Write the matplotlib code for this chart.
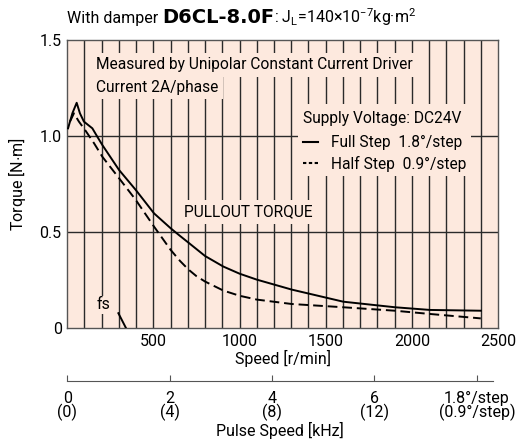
import numpy as np
import matplotlib.pyplot as plt
from matplotlib.lines import Line2D

plt.rcParams['font.family'] = ['Roboto', 'DejaVu Sans']
plt.rcParams['mathtext.fontset'] = 'custom'
plt.rcParams['mathtext.rm'] = 'Roboto'
plt.rcParams['mathtext.it'] = 'Roboto'

# pullout torque, full step (1.8 deg/step)
speed_full = [5, 30, 55, 74, 97, 146, 175, 204, 301, 398, 504, 601, 654, 703, 800,
              906, 1000, 1100, 1303, 1602, 1902, 2106, 2400]
torque_full = [1.04, 1.118, 1.173, 1.118, 1.075, 1.04, 0.996, 0.953, 0.823, 0.719,
               0.597, 0.519, 0.48, 0.445, 0.375, 0.32, 0.283, 0.252, 0.2, 0.137,
               0.108, 0.094, 0.09]

# pullout torque, half step (0.9 deg/step)
speed_half = [16, 39, 68, 107, 156, 204, 301, 398, 504, 601, 654, 703, 750, 800,
              906, 1000, 1100, 1303, 1602, 1902, 2106, 2400]
torque_half = [1.075, 1.118, 1.075, 1.027, 0.962, 0.892, 0.78, 0.667, 0.528, 0.406,
               0.35, 0.305, 0.27, 0.242, 0.195, 0.168, 0.148, 0.125, 0.108, 0.09,
               0.073, 0.05]

fs_speed = [297, 341]
fs_torque = [0.077, 0.0]

pulse_ticks = [0, 2, 4, 6, 8]
pulse_labels = ["0\n(0)", "2\n(4)", "4\n(8)", "6\n(12)", "1.8°/step\n(0.9°/step)"]

bg = "#fde9de"
gridc = "#2a2a2a"
fs = 11.5


def main():
    fig = plt.figure(figsize=(5.27, 4.43), dpi=100)
    ax = fig.add_axes([0.1275, 0.2596, 0.8175, 0.6501])
    ax.set_facecolor(bg)
    ax.set_xlim(0, 2500)
    ax.set_ylim(0, 1.5)
    ax.set_xticks([500, 1000, 1500, 2000, 2500])
    ax.set_xticks(np.arange(100, 2500, 100), minor=True)
    ax.set_yticks([0, 0.5, 1.0, 1.5])
    ax.set_yticklabels(["0", "0.5", "1.0", "1.5"])
    ax.tick_params(which="both", length=0, labelsize=fs, pad=4)
    ax.grid(True, which="minor", axis="x", color=gridc, lw=1.0, zorder=1)
    for y in [0.5, 1.0]:
        ax.axhline(y, color=gridc, lw=1.0, zorder=1)
    for x in [500, 1000, 1500, 2000]:
        ax.axvline(x, color=gridc, lw=1.0, zorder=1)
    for s in ax.spines.values():
        s.set_color("#555555")
        s.set_linewidth(1.0)
    ax.set_axisbelow(True)

    ax.plot(speed_full, torque_full, color="black", lw=1.4, zorder=4)
    ax.plot(speed_half, torque_half, color="black", lw=1.4, ls=(0, (5, 2.5)), zorder=4)
    ax.plot(fs_speed, fs_torque, color="black", lw=1.4, zorder=4)
    ax.text(210, 0.12, "fs", fontsize=fs, ha="center", va="center", zorder=3,
            bbox=dict(facecolor=bg, edgecolor="none", pad=1))

    ax.set_xlabel("Speed [r/min]", fontsize=fs, labelpad=1)
    ax.set_ylabel("Torque [N$\\cdot$m]", fontsize=fs, labelpad=8)

    box = dict(facecolor=bg, edgecolor="none", pad=3)
    ax.text(167, 1.37, "Measured by Unipolar Constant Current Driver", fontsize=11.2,
            va="center", ha="left", zorder=3, bbox=box)
    ax.text(167, 1.255, "Current 2A/phase", fontsize=11.2, va="center", ha="left",
            zorder=3, bbox=box)
    ax.text(1052, 0.604, "PULLOUT TORQUE", fontsize=11.2, va="center", ha="center",
            zorder=3, bbox=box)
    ax.text(1368, 1.09, "Supply Voltage: DC24V", fontsize=11.2, va="center",
            ha="left", zorder=3, bbox=dict(facecolor=bg, edgecolor="none", pad=5))

    handles = [Line2D([], [], color="black", lw=1.5),
               Line2D([], [], color="black", lw=1.5, ls=(0, (1.6, 1.2)))]
    leg = ax.legend(handles, ["Full Step  1.8°/step", "Half Step  0.9°/step"],
                    loc="center left", bbox_to_anchor=(0.5358, 0.606),
                    fontsize=11.2, frameon=True, facecolor=bg, edgecolor="none",
                    framealpha=1, handlelength=1.0, handletextpad=0.8,
                    borderpad=0.3, labelspacing=0.35, borderaxespad=0)
    leg.set_zorder(3)

    # pulse speed axis
    ax2 = fig.add_axes([0.1277, 0.1399, 0.8083, 0.001])
    ax2.set_xlim(0, 8.32)
    ax2.set_facecolor("none")
    for k in ["top", "left", "right"]:
        ax2.spines[k].set_visible(False)
    ax2.spines["bottom"].set_color("#555555")
    ax2.set_yticks([])
    ax2.set_xticks(pulse_ticks)
    ax2.set_xticklabels(pulse_labels, fontsize=fs, linespacing=0.85)
    ax2.tick_params(axis="x", direction="in", length=4, color="#555555", pad=7)
    ax2.set_xlabel("Pulse Speed [kHz]", fontsize=fs, labelpad=1)

    # title with mixed fonts
    fig.canvas.draw()
    r = fig.canvas.get_renderer()
    x0 = 0.127
    yt = 0.949
    parts = [("With damper ", dict(fontsize=fs)),
             ("D6CL-8.0F", dict(fontsize=14, fontweight="bold", family="DejaVu Sans")),
             (": J$_\\mathregular{L}$=140×10$^\\mathregular{-7}$kg·m$^\\mathregular{2}$",
              dict(fontsize=fs))]
    for txt, kw in parts:
        t = fig.text(x0, yt, txt, ha="left", va="baseline", **kw)
        bb = t.get_window_extent(renderer=r)
        x0 = fig.transFigure.inverted().transform((bb.x1, bb.y0))[0]

    fig.savefig("out.png", dpi=100)
    plt.close()


if __name__ == "__main__":
    main()
